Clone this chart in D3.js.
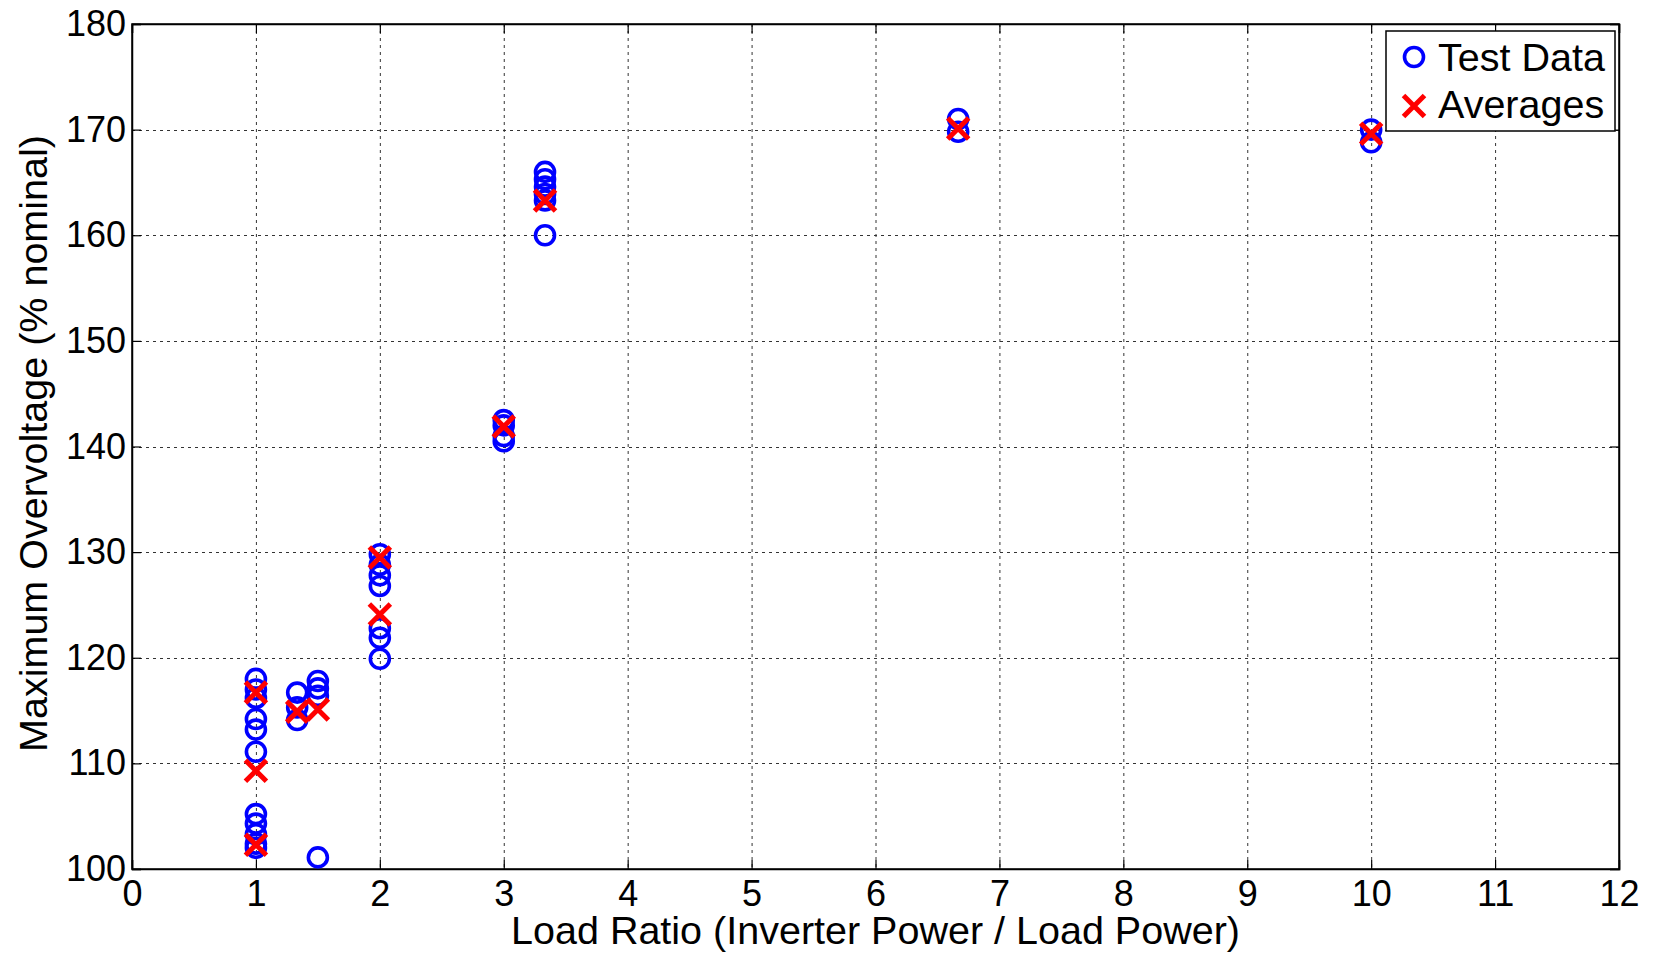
<!DOCTYPE html>
<html><head><meta charset="utf-8">
<script src="https://cdn.jsdelivr.net/npm/d3@7"></script>
<style>html,body{margin:0;padding:0;background:#fff;} svg{display:block;font-family:"Liberation Sans",Arial,sans-serif;}</style>
</head><body>
<svg id="chart" width="1658" height="956"></svg>
<script>
// ---- data ----
const testX = [1,1,1,1,1,1, 1,1,1,1,1,
  1.333,1.333,1.333, 1.5,1.5,1.5,1.5,
  2,2,2,2,2,2,2, 3,3,3,3, 3.333,3.333,3.333,3.333,3.333,3.333,
  6.667,6.667, 10,10];
const testY = [118,117,116.2,114.2,113.2,111.1, 105.2,104.3,103.3,102.4,102,
  116.7,115.3,114.1, 117.8,117.1,116.4,101.1,
  129.8,128.8,127.8,126.8,122.8,121.9,119.9, 142.5,142,141,140.5, 166,165.3,164.6,163.9,163.3,160,
  171,169.8, 170,168.8];
const avgX = [1,1,1, 1.333,1.5, 2,2, 3, 3.333, 6.667, 10];
const avgY = [116.7,109.3,102.3, 114.9,115.1, 129.5,124.1, 141.9, 163.3, 170.1, 169.6];
const xTicks = [0,1,2,3,4,5,6,7,8,9,10,11,12];
const yTicks = [100,110,120,130,140,150,160,170,180];
const legendLabels = ["Test Data","Averages"];
const xTitle = "Load Ratio (Inverter Power / Load Power)";
const yTitle = "Maximum Overvoltage (% nominal)";

// ---- layout ----
const L = 132, R = 1619, T = 24, B = 869;
const svg = d3.select("#chart");
const x = d3.scaleLinear().domain([0,12]).range([L,R]);
const y = d3.scaleLinear().domain([100,180]).range([B,T]);

// grid
const grid = svg.append("g").attr("stroke","#333").attr("stroke-width",1).attr("stroke-dasharray","3,4");
grid.selectAll(".gx").data(xTicks.slice(1,-1)).join("line")
  .attr("x1",d=>x(d)+0.5).attr("x2",d=>x(d)+0.5).attr("y1",T).attr("y2",B);
grid.selectAll(".gy").data(yTicks.slice(1,-1)).join("line")
  .attr("y1",d=>Math.round(y(d))+0.5).attr("y2",d=>Math.round(y(d))+0.5).attr("x1",L).attr("x2",R);

// axes via d3 axis
const fs = 36;
const xAxis = svg.append("g").attr("transform",`translate(0,${B})`)
  .call(d3.axisBottom(x).tickValues(xTicks).tickSize(-9).tickPadding(11).tickFormat(d3.format("d")));
const xAxisTop = svg.append("g").attr("transform",`translate(0,${T})`)
  .call(d3.axisTop(x).tickValues(xTicks).tickSize(-9).tickFormat(""));
const yAxis = svg.append("g").attr("transform",`translate(${L},0)`)
  .call(d3.axisLeft(y).tickValues(yTicks).tickSize(-9).tickPadding(6).tickFormat(d3.format("d")));
const yAxisR = svg.append("g").attr("transform",`translate(${R},0)`)
  .call(d3.axisRight(y).tickValues(yTicks).tickSize(-9).tickFormat(""));
[xAxis,xAxisTop,yAxis,yAxisR].forEach(g=>{
  g.selectAll(".domain").attr("stroke","#000").attr("stroke-width",1.5);
  g.selectAll(".tick line").attr("stroke","#000").attr("stroke-width",1.2);
  g.selectAll("text").attr("font-size",fs).attr("fill","#000").attr("font-family","Liberation Sans, Arial, sans-serif");
});
svg.append("rect").attr("x",L).attr("y",T).attr("width",R-L).attr("height",B-T)
  .attr("fill","none").attr("stroke","#000").attr("stroke-width",1.5);

// titles
svg.append("text").attr("x",(L+R)/2).attr("y",944).attr("text-anchor","middle")
  .attr("font-size",39.5).text(xTitle);
svg.append("text").attr("transform",`translate(47,${(T+B)/2 - 3}) rotate(-90)`).attr("text-anchor","middle")
  .attr("font-size",39.5).text(yTitle);

// markers
const r = 9.5, h = 10.5;
const blue = "#0000ff", red = "#ff0000";
svg.append("g").selectAll("circle").data(testX.map((d,i)=>[d,testY[i]])).join("circle")
  .attr("cx",d=>x(d[0])).attr("cy",d=>y(d[1])).attr("r",r)
  .attr("fill","none").attr("stroke",blue).attr("stroke-width",3.6);
const xPath = (cx,cy,s)=>`M${cx-s},${cy-s}L${cx+s},${cy+s}M${cx-s},${cy+s}L${cx+s},${cy-s}`;
svg.append("g").selectAll("path").data(avgX.map((d,i)=>[d,avgY[i]])).join("path")
  .attr("d",d=>xPath(x(d[0]),y(d[1]),h))
  .attr("fill","none").attr("stroke",red).attr("stroke-width",5);

// legend
const lg = svg.append("g");
lg.append("rect").attr("x",1386).attr("y",31).attr("width",229).attr("height",100)
  .attr("fill","#fff").attr("stroke","#000").attr("stroke-width",1.5);
lg.append("circle").attr("cx",1414).attr("cy",57).attr("r",r).attr("fill","none").attr("stroke",blue).attr("stroke-width",3.6);
lg.append("path").attr("d",xPath(1414,106,h)).attr("fill","none").attr("stroke",red).attr("stroke-width",5);
lg.selectAll("text").data(legendLabels).join("text")
  .attr("x",1438).attr("y",(d,i)=>[71,118][i]).attr("font-size",39.5).text(d=>d);
</script>
</body></html>
